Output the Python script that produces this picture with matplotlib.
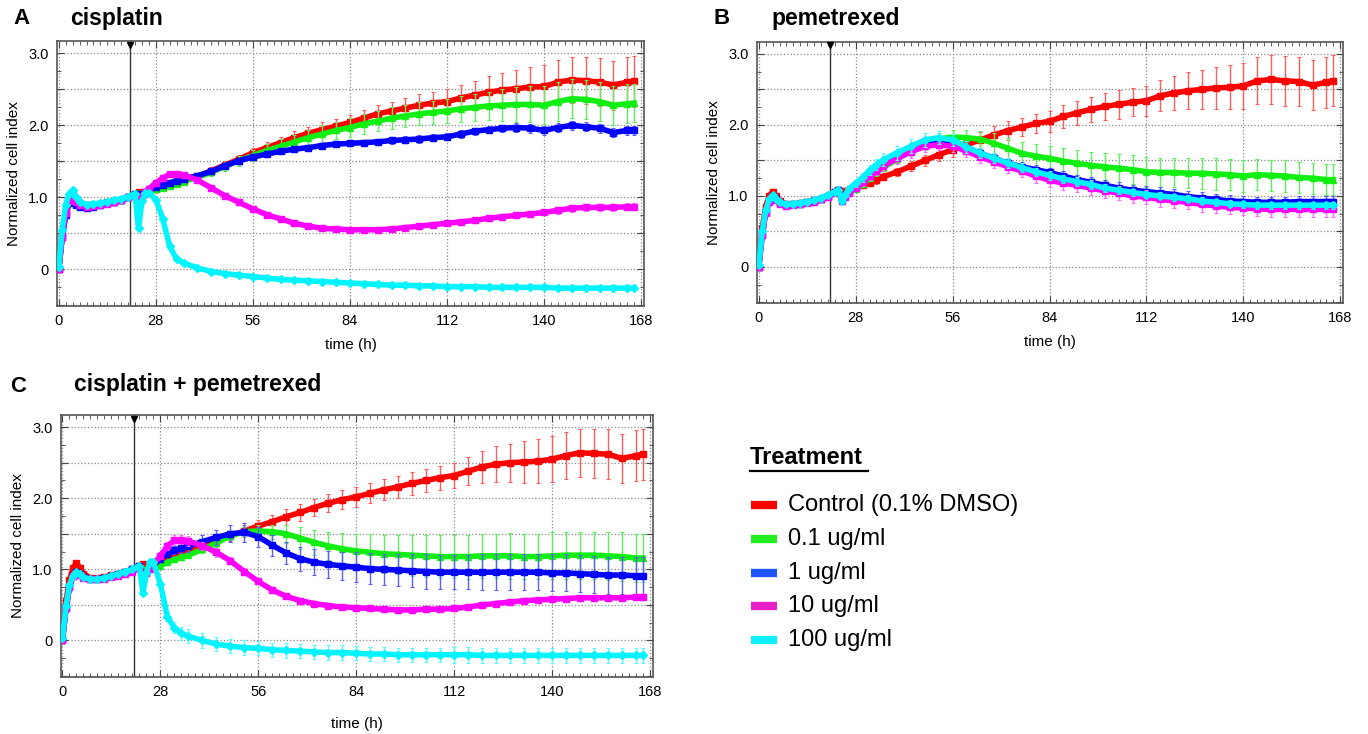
import matplotlib
matplotlib.use("Agg")
import matplotlib.pyplot as plt
from matplotlib.lines import Line2D
from matplotlib.ticker import MultipleLocator, FuncFormatter

plt.rcParams['font.family'] = ['Liberation Sans', 'DejaVu Sans']

# sampling times (h)
hours = [0, 1, 2, 3, 4, 5, 6,
         8, 10, 12, 14, 16, 18, 20, 22,
         23, 24, 25, 26,
         28, 30, 32, 34, 36,
         40, 44, 48, 52, 56, 60, 64, 68, 72,
         76, 80, 84, 88, 92, 96, 100, 104, 108,
         112, 116, 120, 124, 128, 132, 136, 140, 144,
         148, 152, 156, 160, 164, 166]

treatments = ['Control (0.1% DMSO)', '0.1 ug/ml', '1 ug/ml', '10 ug/ml', '100 ug/ml']
drug_time = 20.5

# ---- A: cisplatin ----
a_ctrl = [0.0, 0.50, 0.80, 0.98, 1.05, 0.97, 0.92,
          0.89, 0.90, 0.91, 0.93, 0.94, 0.96, 1.00, 1.04,
          1.07, 1.03, 1.06, 1.08,
          1.12, 1.14, 1.17, 1.20, 1.23,
          1.29, 1.37, 1.45, 1.53, 1.62, 1.69, 1.76, 1.83, 1.89,
          1.94, 1.99, 2.04, 2.10, 2.16, 2.20, 2.24, 2.28, 2.31,
          2.33, 2.38, 2.42, 2.46, 2.49, 2.51, 2.53, 2.54, 2.60,
          2.63, 2.62, 2.60, 2.56, 2.60, 2.61]
a_01 = [0.0, 0.48, 0.78, 0.95, 1.02, 0.95, 0.90,
        0.88, 0.89, 0.90, 0.92, 0.94, 0.96, 1.00, 1.04,
        1.06, 1.03, 1.06, 1.07,
        1.11, 1.13, 1.16, 1.19, 1.22,
        1.28, 1.35, 1.43, 1.51, 1.58, 1.65, 1.71, 1.77, 1.83,
        1.88, 1.93, 1.97, 2.02, 2.06, 2.10, 2.13, 2.16, 2.18,
        2.20, 2.23, 2.25, 2.27, 2.28, 2.29, 2.29, 2.28, 2.33,
        2.37, 2.36, 2.33, 2.28, 2.30, 2.31]
a_1 = [0.0, 0.45, 0.75, 0.92, 0.96, 0.90, 0.86,
       0.85, 0.87, 0.89, 0.92, 0.94, 0.96, 1.00, 1.04,
       1.05, 1.03, 1.07, 1.10,
       1.14, 1.17, 1.20, 1.23, 1.26,
       1.30, 1.36, 1.44, 1.51, 1.56, 1.60, 1.64, 1.67, 1.69,
       1.72, 1.74, 1.75, 1.76, 1.77, 1.79, 1.80, 1.81, 1.83,
       1.84, 1.88, 1.92, 1.94, 1.96, 1.97, 1.96, 1.93, 1.97,
       2.00, 1.98, 1.96, 1.90, 1.93, 1.93]
a_10 = [0.0, 0.45, 0.78, 0.95, 1.00, 0.94, 0.89,
        0.87, 0.88, 0.89, 0.91, 0.93, 0.96, 1.00, 1.03,
        0.92, 1.02, 1.08, 1.12,
        1.20, 1.27, 1.32, 1.33, 1.31,
        1.24, 1.13, 1.02, 0.93, 0.84, 0.76, 0.70, 0.64, 0.60,
        0.57, 0.56, 0.55, 0.55, 0.55, 0.56, 0.58, 0.60, 0.62,
        0.64, 0.66, 0.68, 0.71, 0.73, 0.75, 0.77, 0.79, 0.82,
        0.85, 0.86, 0.86, 0.86, 0.87, 0.87]
a_100 = [0.03, 0.55, 0.90, 1.05, 1.10, 1.00, 0.94,
         0.90, 0.91, 0.92, 0.94, 0.96, 0.98, 1.01, 1.05,
         0.57, 0.95, 1.06, 1.06,
         0.97, 0.70, 0.32, 0.14, 0.09,
         0.02, -0.03, -0.06, -0.08, -0.10, -0.12, -0.14, -0.15, -0.16,
         -0.17, -0.18, -0.19, -0.20, -0.21, -0.22, -0.22, -0.23, -0.23,
         -0.24, -0.24, -0.24, -0.25, -0.25, -0.25, -0.25, -0.25, -0.26,
         -0.26, -0.26, -0.26, -0.26, -0.26, -0.26]

a_ctrl_sd = [0.02, 0.02, 0.02, 0.02, 0.02, 0.02, 0.02,
             0.02, 0.02, 0.02, 0.02, 0.02, 0.02, 0.02, 0.02,
             0.02, 0.02, 0.02, 0.02,
             0.03, 0.03, 0.03, 0.04, 0.04,
             0.04, 0.05, 0.05, 0.06, 0.07, 0.08, 0.08, 0.09, 0.09,
             0.10, 0.10, 0.10, 0.11, 0.12, 0.13, 0.14, 0.15, 0.16,
             0.17, 0.18, 0.20, 0.22, 0.24, 0.26, 0.28, 0.30, 0.31,
             0.32, 0.33, 0.33, 0.34, 0.35, 0.35]
a_01_sd = [0.02, 0.02, 0.02, 0.02, 0.02, 0.02, 0.02,
           0.02, 0.02, 0.02, 0.02, 0.02, 0.02, 0.02, 0.02,
           0.02, 0.02, 0.02, 0.02,
           0.03, 0.03, 0.03, 0.03, 0.03,
           0.04, 0.05, 0.06, 0.07, 0.08, 0.09, 0.10, 0.10, 0.11,
           0.12, 0.12, 0.13, 0.14, 0.14, 0.15, 0.15, 0.16, 0.16,
           0.17, 0.18, 0.19, 0.20, 0.22, 0.24, 0.25, 0.26, 0.27,
           0.27, 0.27, 0.27, 0.27, 0.27, 0.27]
a_1_sd = [0.02, 0.02, 0.02, 0.02, 0.02, 0.02, 0.02,
          0.02, 0.02, 0.02, 0.02, 0.02, 0.02, 0.02, 0.02,
          0.02, 0.02, 0.02, 0.02,
          0.03, 0.03, 0.03, 0.03, 0.03,
          0.03, 0.03, 0.03, 0.03, 0.04, 0.04, 0.04, 0.04, 0.04,
          0.04, 0.04, 0.04, 0.04, 0.04, 0.05, 0.05, 0.05, 0.05,
          0.05, 0.05, 0.05, 0.05, 0.05, 0.06, 0.06, 0.06, 0.06,
          0.06, 0.06, 0.06, 0.06, 0.06, 0.06]
a_10_sd = [0.02, 0.02, 0.02, 0.02, 0.02, 0.02, 0.02,
           0.02, 0.02, 0.02, 0.02, 0.02, 0.02, 0.02, 0.02,
           0.02, 0.02, 0.02, 0.02,
           0.03, 0.03, 0.03, 0.03, 0.03,
           0.03, 0.03, 0.03, 0.03, 0.03, 0.03, 0.03, 0.03, 0.03,
           0.03, 0.03, 0.03, 0.03, 0.03, 0.03, 0.04, 0.04, 0.04,
           0.04, 0.04, 0.04, 0.04, 0.04, 0.04, 0.04, 0.04, 0.05,
           0.05, 0.05, 0.05, 0.05, 0.05, 0.05]
a_100_sd = [0.02, 0.02, 0.02, 0.02, 0.02, 0.02, 0.02,
            0.02, 0.02, 0.02, 0.02, 0.02, 0.02, 0.02, 0.02,
            0.02, 0.02, 0.02, 0.02,
            0.02, 0.02, 0.02, 0.02, 0.02,
            0.02, 0.02, 0.02, 0.02, 0.02, 0.02, 0.02, 0.02, 0.02,
            0.02, 0.02, 0.02, 0.02, 0.02, 0.02, 0.02, 0.02, 0.02,
            0.02, 0.02, 0.02, 0.02, 0.02, 0.02, 0.02, 0.02, 0.02,
            0.02, 0.02, 0.02, 0.02, 0.02, 0.02]

# ---- B: pemetrexed ----
b_ctrl = [0.0, 0.55, 0.85, 1.00, 1.06, 1.00, 0.93,
          0.88, 0.88, 0.90, 0.92, 0.94, 0.96, 1.00, 1.06,
          1.08, 1.05, 1.07, 1.09,
          1.13, 1.15, 1.18, 1.22, 1.27,
          1.34, 1.42, 1.50, 1.58, 1.65, 1.72, 1.79, 1.86, 1.92,
          1.97, 2.02, 2.05, 2.12, 2.17, 2.22, 2.26, 2.29, 2.32,
          2.34, 2.41, 2.45, 2.48, 2.50, 2.52, 2.53, 2.55, 2.62,
          2.64, 2.62, 2.61, 2.56, 2.60, 2.62]
b_01 = [0.0, 0.48, 0.78, 0.94, 1.00, 0.95, 0.90,
        0.87, 0.88, 0.89, 0.91, 0.93, 0.96, 1.00, 1.05,
        1.08, 0.93, 1.00, 1.05,
        1.10, 1.17, 1.25, 1.33, 1.40,
        1.52, 1.63, 1.72, 1.80, 1.83, 1.82, 1.80, 1.74, 1.67,
        1.60, 1.56, 1.53, 1.49, 1.46, 1.43, 1.41, 1.39, 1.37,
        1.34, 1.33, 1.33, 1.32, 1.32, 1.31, 1.30, 1.28, 1.30,
        1.29, 1.28, 1.26, 1.25, 1.23, 1.23]
b_1 = [0.0, 0.45, 0.78, 0.93, 1.00, 0.95, 0.90,
       0.87, 0.88, 0.89, 0.91, 0.93, 0.96, 1.00, 1.05,
       1.08, 0.95, 1.00, 1.06,
       1.13, 1.21, 1.30, 1.38, 1.45,
       1.56, 1.65, 1.73, 1.75, 1.74, 1.68, 1.60, 1.53, 1.46,
       1.41, 1.37, 1.33, 1.28, 1.23, 1.19, 1.15, 1.11, 1.08,
       1.06, 1.04, 1.02, 0.99, 0.97, 0.95, 0.93, 0.92, 0.91,
       0.91, 0.91, 0.92, 0.92, 0.92, 0.92]
b_10 = [0.0, 0.45, 0.76, 0.92, 0.99, 0.94, 0.89,
        0.86, 0.87, 0.88, 0.90, 0.92, 0.95, 0.99, 1.04,
        1.07, 0.93, 0.98, 1.04,
        1.11, 1.19, 1.28, 1.35, 1.42,
        1.53, 1.62, 1.70, 1.72, 1.70, 1.63, 1.55, 1.48, 1.41,
        1.35, 1.28, 1.22, 1.18, 1.15, 1.11, 1.07, 1.04, 1.00,
        0.98, 0.95, 0.93, 0.91, 0.88, 0.86, 0.84, 0.83, 0.82,
        0.81, 0.81, 0.81, 0.81, 0.81, 0.81]
b_100 = [0.03, 0.50, 0.80, 0.95, 1.01, 0.96, 0.91,
         0.88, 0.89, 0.90, 0.92, 0.94, 0.97, 1.01, 1.06,
         1.09, 0.93, 1.02, 1.10,
         1.18, 1.26, 1.36, 1.44, 1.51,
         1.61, 1.70, 1.79, 1.82, 1.79, 1.69, 1.60, 1.53, 1.46,
         1.40, 1.34, 1.29, 1.24, 1.20, 1.16, 1.11, 1.08, 1.05,
         1.02, 1.00, 0.98, 0.96, 0.93, 0.91, 0.89, 0.88, 0.87,
         0.87, 0.87, 0.87, 0.87, 0.87, 0.87]

b_ctrl_sd = [0.02, 0.02, 0.02, 0.02, 0.02, 0.02, 0.02,
             0.02, 0.02, 0.02, 0.02, 0.02, 0.02, 0.02, 0.02,
             0.02, 0.02, 0.02, 0.02,
             0.03, 0.04, 0.04, 0.05, 0.05,
             0.06, 0.07, 0.08, 0.09, 0.10, 0.10, 0.11, 0.12, 0.13,
             0.13, 0.14, 0.15, 0.16, 0.17, 0.18, 0.19, 0.20, 0.20,
             0.21, 0.22, 0.24, 0.26, 0.28, 0.30, 0.31, 0.32, 0.33,
             0.34, 0.35, 0.35, 0.35, 0.36, 0.36]
b_01_sd = [0.02, 0.02, 0.02, 0.02, 0.02, 0.02, 0.02,
           0.02, 0.02, 0.02, 0.02, 0.02, 0.02, 0.02, 0.02,
           0.02, 0.02, 0.02, 0.02,
           0.03, 0.04, 0.04, 0.05, 0.05,
           0.06, 0.07, 0.08, 0.09, 0.10, 0.11, 0.12, 0.14, 0.15,
           0.16, 0.17, 0.18, 0.18, 0.19, 0.19, 0.20, 0.20, 0.20,
           0.21, 0.21, 0.21, 0.21, 0.22, 0.22, 0.22, 0.22, 0.22,
           0.22, 0.22, 0.22, 0.22, 0.22, 0.22]
b_1_sd = [0.02, 0.02, 0.02, 0.02, 0.02, 0.02, 0.02,
          0.02, 0.02, 0.02, 0.02, 0.02, 0.02, 0.02, 0.02,
          0.02, 0.02, 0.02, 0.02,
          0.03, 0.04, 0.04, 0.04, 0.04,
          0.05, 0.06, 0.06, 0.06, 0.06, 0.06, 0.06, 0.06, 0.06,
          0.07, 0.07, 0.07, 0.07, 0.07, 0.08, 0.08, 0.08, 0.08,
          0.08, 0.08, 0.08, 0.08, 0.08, 0.08, 0.08, 0.08, 0.08,
          0.08, 0.08, 0.08, 0.08, 0.08, 0.08]
b_10_sd = [0.02, 0.02, 0.02, 0.02, 0.02, 0.02, 0.02,
           0.02, 0.02, 0.02, 0.02, 0.02, 0.02, 0.02, 0.02,
           0.02, 0.02, 0.02, 0.02,
           0.04, 0.05, 0.06, 0.06, 0.07,
           0.08, 0.08, 0.08, 0.08, 0.08, 0.08, 0.09, 0.09, 0.09,
           0.09, 0.10, 0.10, 0.10, 0.10, 0.10, 0.10, 0.10, 0.10,
           0.10, 0.10, 0.10, 0.10, 0.10, 0.10, 0.10, 0.10, 0.10,
           0.10, 0.10, 0.10, 0.10, 0.10, 0.10]
b_100_sd = [0.02, 0.02, 0.02, 0.02, 0.02, 0.02, 0.02,
            0.02, 0.02, 0.02, 0.02, 0.02, 0.02, 0.02, 0.02,
            0.02, 0.02, 0.02, 0.02,
            0.05, 0.06, 0.07, 0.08, 0.09,
            0.10, 0.10, 0.10, 0.09, 0.08, 0.08, 0.07, 0.07, 0.07,
            0.06, 0.06, 0.06, 0.06, 0.06, 0.06, 0.06, 0.05, 0.05,
            0.05, 0.05, 0.05, 0.05, 0.05, 0.05, 0.05, 0.05, 0.05,
            0.05, 0.05, 0.05, 0.05, 0.05, 0.05]

# ---- C: cisplatin + pemetrexed ----
c_ctrl = [0.0, 0.55, 0.85, 1.02, 1.09, 1.02, 0.94,
          0.88, 0.88, 0.89, 0.92, 0.94, 0.97, 1.00, 1.05,
          1.08, 1.02, 1.05, 1.07,
          1.10, 1.14, 1.18, 1.22, 1.26,
          1.32, 1.39, 1.47, 1.54, 1.61, 1.67, 1.74, 1.80, 1.87,
          1.93, 1.98, 2.02, 2.07, 2.12, 2.16, 2.21, 2.25, 2.29,
          2.32, 2.38, 2.44, 2.48, 2.50, 2.51, 2.52, 2.55, 2.60,
          2.64, 2.63, 2.62, 2.56, 2.60, 2.62]
c_01 = [0.0, 0.47, 0.77, 0.92, 0.97, 0.93, 0.89,
        0.86, 0.86, 0.88, 0.91, 0.94, 0.97, 1.00, 1.05,
        1.00, 1.00, 1.02, 1.03,
        1.05, 1.10, 1.14, 1.17, 1.20,
        1.28, 1.37, 1.47, 1.53, 1.54, 1.53, 1.50, 1.44, 1.38,
        1.33, 1.29, 1.26, 1.24, 1.22, 1.21, 1.20, 1.19, 1.18,
        1.18, 1.18, 1.19, 1.19, 1.19, 1.18, 1.18, 1.19, 1.20,
        1.20, 1.20, 1.19, 1.18, 1.16, 1.16]
c_1 = [0.0, 0.45, 0.75, 0.90, 0.96, 0.93, 0.89,
       0.86, 0.86, 0.88, 0.91, 0.94, 0.97, 1.00, 1.05,
       0.88, 0.95, 1.02, 1.06,
       1.15, 1.22, 1.27, 1.30, 1.33,
       1.39, 1.45, 1.50, 1.52, 1.46, 1.34, 1.23, 1.15, 1.10,
       1.07, 1.05, 1.03, 1.01, 1.00, 0.99, 0.98, 0.97, 0.96,
       0.96, 0.96, 0.96, 0.96, 0.96, 0.96, 0.96, 0.95, 0.95,
       0.94, 0.93, 0.92, 0.92, 0.91, 0.91]
c_10 = [0.0, 0.45, 0.75, 0.90, 0.95, 0.92, 0.88,
        0.86, 0.86, 0.87, 0.89, 0.91, 0.93, 0.97, 1.02,
        0.85, 0.95, 1.00, 1.07,
        1.19, 1.33, 1.41, 1.42, 1.40,
        1.33, 1.24, 1.12, 0.97, 0.83, 0.71, 0.62, 0.56, 0.52,
        0.49, 0.47, 0.46, 0.45, 0.44, 0.43, 0.43, 0.44, 0.44,
        0.45, 0.47, 0.50, 0.52, 0.54, 0.56, 0.57, 0.58, 0.59,
        0.60, 0.60, 0.60, 0.60, 0.61, 0.61]
c_100 = [0.03, 0.48, 0.78, 0.91, 0.96, 0.93, 0.89,
         0.86, 0.86, 0.88, 0.91, 0.94, 0.97, 1.00, 1.05,
         0.67, 0.95, 1.10, 1.10,
         0.80, 0.33, 0.18, 0.10, 0.06,
         0.00, -0.05, -0.08, -0.10, -0.11, -0.13, -0.14, -0.15, -0.16,
         -0.17, -0.17, -0.18, -0.19, -0.19, -0.20, -0.20, -0.20, -0.20,
         -0.20, -0.20, -0.21, -0.21, -0.21, -0.21, -0.21, -0.21, -0.21,
         -0.21, -0.21, -0.21, -0.21, -0.21, -0.21]

c_ctrl_sd = [0.02, 0.02, 0.02, 0.02, 0.02, 0.02, 0.02,
             0.02, 0.02, 0.02, 0.02, 0.02, 0.02, 0.02, 0.02,
             0.02, 0.02, 0.02, 0.02,
             0.03, 0.03, 0.04, 0.04, 0.05,
             0.05, 0.06, 0.07, 0.08, 0.09, 0.10, 0.11, 0.12, 0.12,
             0.13, 0.13, 0.14, 0.14, 0.15, 0.15, 0.16, 0.16, 0.17,
             0.18, 0.20, 0.22, 0.25, 0.27, 0.29, 0.31, 0.32, 0.33,
             0.34, 0.35, 0.35, 0.35, 0.36, 0.36]
c_01_sd = [0.02, 0.02, 0.02, 0.02, 0.02, 0.02, 0.02,
           0.02, 0.02, 0.02, 0.02, 0.02, 0.02, 0.02, 0.02,
           0.02, 0.02, 0.02, 0.02,
           0.03, 0.03, 0.03, 0.04, 0.04,
           0.05, 0.05, 0.06, 0.07, 0.08, 0.10, 0.13, 0.16, 0.18,
           0.20, 0.22, 0.24, 0.26, 0.27, 0.28, 0.29, 0.30, 0.30,
           0.30, 0.31, 0.31, 0.31, 0.32, 0.32, 0.32, 0.33, 0.33,
           0.33, 0.33, 0.34, 0.34, 0.34, 0.34]
c_1_sd = [0.02, 0.02, 0.02, 0.02, 0.02, 0.02, 0.02,
          0.02, 0.02, 0.02, 0.02, 0.02, 0.02, 0.02, 0.02,
          0.02, 0.02, 0.02, 0.03,
          0.04, 0.05, 0.06, 0.07, 0.08,
          0.10, 0.11, 0.12, 0.13, 0.14, 0.15, 0.16, 0.17, 0.18,
          0.19, 0.20, 0.21, 0.22, 0.22, 0.23, 0.23, 0.24, 0.24,
          0.24, 0.24, 0.25, 0.25, 0.25, 0.25, 0.25, 0.26, 0.26,
          0.26, 0.26, 0.26, 0.26, 0.26, 0.26]
c_10_sd = [0.02, 0.02, 0.02, 0.02, 0.02, 0.02, 0.02,
           0.02, 0.02, 0.02, 0.02, 0.02, 0.02, 0.02, 0.02,
           0.02, 0.02, 0.03, 0.04,
           0.05, 0.06, 0.07, 0.07, 0.07,
           0.06, 0.06, 0.05, 0.05, 0.04, 0.04, 0.04, 0.04, 0.04,
           0.04, 0.04, 0.04, 0.04, 0.04, 0.04, 0.04, 0.04, 0.04,
           0.04, 0.04, 0.04, 0.04, 0.04, 0.04, 0.04, 0.04, 0.04,
           0.04, 0.04, 0.04, 0.04, 0.04, 0.04]
c_100_sd = [0.02, 0.02, 0.02, 0.02, 0.02, 0.02, 0.02,
            0.02, 0.02, 0.02, 0.02, 0.02, 0.02, 0.02, 0.02,
            0.02, 0.02, 0.02, 0.02,
            0.04, 0.06, 0.08, 0.09, 0.10,
            0.10, 0.10, 0.10, 0.10, 0.10, 0.10, 0.10, 0.10, 0.10,
            0.10, 0.10, 0.10, 0.10, 0.10, 0.10, 0.10, 0.10, 0.10,
            0.11, 0.11, 0.11, 0.11, 0.11, 0.11, 0.11, 0.11, 0.11,
            0.11, 0.11, 0.11, 0.11, 0.11, 0.11]

line_colors = ['#ff0000', '#11ee11', '#0000ff', '#ff00ff', '#00f4ff']
bar_colors = ['#ff5c5c', '#5cf05c', '#5c5cff', '#ff6cff', '#5cf8ff']
legend_colors = ['#ff0000', '#22ee22', '#1f55ff', '#e81ec8', '#11eeff']
markers = ['s', '^', 's', 's', 'D']


def y_label_fmt(v, pos):
    if abs(v) < 1e-9:
        return '0'
    if abs(v - round(v)) < 1e-9 and v > 0:
        return f'{v:.1f}'
    return ''


def plot_panel(ax, curves, errors, xlabel_pad=7):
    """Draw one xCELLigence-style panel with the five treatment curves."""
    for k, (vals, sd) in enumerate(zip(curves, errors)):
        ax.errorbar(hours, vals, yerr=sd, fmt='-', color=line_colors[k],
                    ecolor=bar_colors[k], elinewidth=1.0, capsize=1.5,
                    capthick=0.8, linewidth=4.0, marker=markers[k],
                    markersize=4, zorder=3 + k)

    ax.set_xlim(-0.5, 168.8)
    ax.set_ylim(-0.51, 3.17)
    ax.xaxis.set_major_locator(MultipleLocator(28))
    ax.xaxis.set_minor_locator(MultipleLocator(2))
    ax.yaxis.set_major_locator(MultipleLocator(0.5))
    ax.yaxis.set_minor_locator(MultipleLocator(0.25))
    ax.yaxis.set_major_formatter(FuncFormatter(y_label_fmt))
    ax.tick_params(which='both', direction='in', top=True, right=True,
                   labelsize=10.5, color='#444444')
    ax.tick_params(which='major', length=5, pad=6)
    ax.tick_params(which='minor', length=3)
    ax.grid(True, which='major', linestyle=':', color='#8a8a8a', linewidth=0.9)
    ax.set_axisbelow(True)
    for sp in ax.spines.values():
        sp.set_color('#555555')
        sp.set_linewidth(1.2)

    # compound addition
    ax.axvline(drug_time, color='#333333', linewidth=1.0, zorder=2)
    ax.plot([drug_time], [3.12], marker='v', color='black', markersize=5,
            clip_on=False, zorder=10)

    ax.set_xlabel('time (h)', fontsize=11, labelpad=xlabel_pad)
    ax.set_ylabel('Normalized cell index', fontsize=11, labelpad=5)


fig = plt.figure(figsize=(13.68, 7.34), dpi=100)

ax_a = fig.add_axes([0.0417, 0.583, 0.429, 0.361])
ax_b = fig.add_axes([0.5534, 0.587, 0.4284, 0.356])
ax_c = fig.add_axes([0.0444, 0.078, 0.4327, 0.3565])

plot_panel(ax_a, [a_ctrl, a_01, a_1, a_10, a_100],
           [a_ctrl_sd, a_01_sd, a_1_sd, a_10_sd, a_100_sd])
plot_panel(ax_b, [b_ctrl, b_01, b_1, b_10, b_100],
           [b_ctrl_sd, b_01_sd, b_1_sd, b_10_sd, b_100_sd])
plot_panel(ax_c, [c_ctrl, c_01, c_1, c_10, c_100],
           [c_ctrl_sd, c_01_sd, c_1_sd, c_10_sd, c_100_sd], xlabel_pad=13)

# panel letters and titles
fig.text(22 / 1368, 1 - 18 / 734, 'A', fontsize=16, fontweight='bold', ha='center', va='center')
fig.text(70 / 1368, 1 - 18 / 734, 'cisplatin', fontsize=16.5, fontweight='bold', ha='left', va='center')
fig.text(722 / 1368, 1 - 18 / 734, 'B', fontsize=16, fontweight='bold', ha='center', va='center')
fig.text(771 / 1368, 1 - 18 / 734, 'pemetrexed', fontsize=16.5, fontweight='bold', ha='left', va='center')
fig.text(18 / 1368, 1 - 386 / 734, 'C', fontsize=16, fontweight='bold', ha='center', va='center')
fig.text(74 / 1368, 1 - 385 / 734, 'cisplatin + pemetrexed', fontsize=16.5, fontweight='bold',
         ha='left', va='center')

# legend block
fig.text(750 / 1368, 1 - 458 / 734, 'Treatment', fontsize=17, fontweight='bold',
         ha='left', va='center')
fig.add_artist(Line2D([750 / 1368, 868 / 1368], [1 - 471 / 734, 1 - 471 / 734],
                      color='black', linewidth=1.6))
for k, name in enumerate(treatments):
    yy = 1 - (505 + 33.8 * k) / 734
    fig.add_artist(Line2D([751 / 1368, 777 / 1368], [yy, yy],
                          color=legend_colors[k], linewidth=6, solid_capstyle='butt'))
    fig.text(788 / 1368, yy, name, fontsize=17, ha='left', va='center')

fig.savefig('out.png', dpi=100)
